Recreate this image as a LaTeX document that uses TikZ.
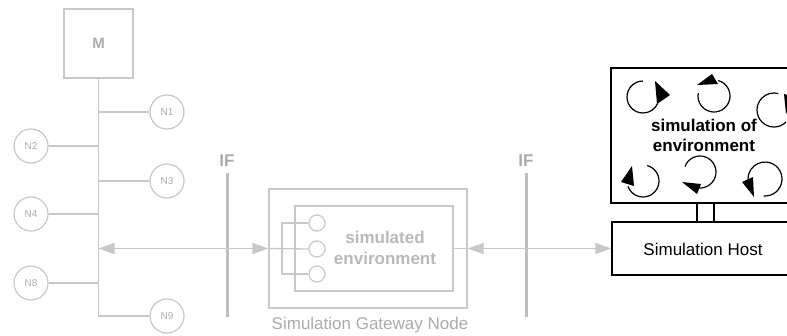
\documentclass[tikz,border=0pt]{standalone}
\usepackage{fontspec}
\setmainfont{Liberation Sans}
\usetikzlibrary{arrows.meta,calc}

\definecolor{lineGray}{RGB}{200,200,200}
\definecolor{ifGray}{RGB}{190,190,190}
\definecolor{textGray}{RGB}{172,172,172}
\definecolor{softGray}{RGB}{185,185,185}

\tikzset{
  gline/.style={draw=lineGray, line width=1.3pt},
  gbox/.style={draw=lineGray, line width=1.3pt, rectangle, inner sep=0pt},
  ncirc/.style={draw=lineGray, line width=1.2pt, circle, minimum size=34pt, inner sep=0pt,
    text=textGray, font=\fontsize{10}{12}\selectfont},
  scirc/.style={draw=lineGray, line width=1.2pt, circle, minimum size=16pt, inner sep=0pt},
  garrow/.style={gline, {Triangle[length=16pt,width=11pt]}-{Triangle[length=16pt,width=11pt]},
    color=lineGray},
  ifline/.style={draw=ifGray, line width=3pt},
  iflabel/.style={text=textGray, font=\fontsize{17}{20}\selectfont\bfseries},
  bbox/.style={draw=black, line width=1.3pt, rectangle, inner sep=0pt},
  bline/.style={draw=black, line width=1.3pt},
  spin/.style={draw=black, line width=1.2pt},
  bigtext/.style={font=\fontsize{17}{20}\selectfont, align=center, inner sep=0pt}
}

\begin{document}
\begin{tikzpicture}[x=1pt,y=-1pt]
\useasboundingbox (0,0) rectangle (787,335);
\clip (0,0) rectangle (787,335);

% master node and the bus
\node[gbox, minimum width=69pt, minimum height=69pt, text=textGray,
      font=\fontsize{15}{18}\selectfont\bfseries] (M) at (98.5,43.5) {M};

\node[ncirc] (n1) at (167,112) {N1};
\node[ncirc] (n2) at (31,146) {N2};
\node[ncirc] (n3) at (167,181) {N3};
\node[ncirc] (n4) at (31,214) {N4};
\node[ncirc] (n8) at (31,283) {N8};
\node[ncirc] (n9) at (167,316) {N9};

\draw[gline] (M.south) |- (n9.west);
\foreach \n in {n1,n2,n3,n4,n8}
  \draw[gline] (\n) -- (\n -| M.south);

% interface markers
\coordinate (ifAtop) at (227,173);
\coordinate (ifAbot) at (227,317);
\coordinate (ifBtop) at (526,173);
\coordinate (ifBbot) at (526,317);
\draw[ifline] (ifAtop) -- (ifAbot);
\draw[ifline] (ifBtop) -- (ifBbot);
\node[iflabel] (ifA) at (227,161) {IF};
\node[iflabel] (ifB) at (526,161) {IF};

% simulation gateway node
\node[gbox, minimum width=198pt, minimum height=119pt] (gwo) at (368,248.5) {};
\node[gbox, minimum width=158pt, minimum height=85pt] (gwi) at (374,248.5) {};
\node[bigtext, text=softGray, font=\fontsize{17}{21}\selectfont\bfseries] (simenv) at (385,248) {simulated\\environment};
\node[bigtext, text=textGray] (gwlabel) at (370,325) {Simulation Gateway Node};

\node[scirc] (s1) at (317,223) {};
\node[scirc] (s2) at (317,249) {};
\node[scirc] (s3) at (317,274) {};
\coordinate (brk) at (282,249);
\draw[gline] (s1.west) -| (brk) |- (s3.west);
\draw[gline] (gwo.west) -- (s2.west);
\draw[gline] (gwi.east) -- (gwo.east);

% links across the interfaces
\draw[garrow] (gwo.west -| M.south) -- (gwo.west);

% simulation host
\node[bbox, minimum width=182pt, minimum height=53pt] (host) at (703,248.5) {};
\node[bigtext] (hostlabel) at (703,249) {Simulation Host};
\node[bbox, minimum width=184pt, minimum height=135pt] (envbox) at (703,135.5) {};
\node[bigtext, font=\fontsize{17}{20}\selectfont\bfseries] (envlabel) at (704,135) {simulation of\\environment};
\draw[bline] ([xshift=-6pt]envbox.south) -- ([xshift=-6pt]envbox.south |- host.north);
\draw[bline] ([xshift=11pt]envbox.south) -- ([xshift=11pt]envbox.south |- host.north);

\draw[garrow] (gwo.east) -- (gwo.east -| host.west);

% rotating processes of the simulated environment
\draw[spin] (643,97) ++(270:16) arc[start angle=270, end angle=23, radius=16];
\fill (655,81) -- (670,95) -- (657,104) -- cycle;

\draw[spin] (714,96) ++(285:16) arc[start angle=285, end angle=550, radius=16];
\fill (697,85) -- (712,74) -- (718,84) -- cycle;

\draw[spin] (774,110) ++(45:17) arc[start angle=45, end angle=285, radius=17];
\fill (784,94) -- (796,97) -- (786,114) -- cycle;

\draw[spin] (643,181) ++(285:16) arc[start angle=285, end angle=520, radius=16];
\fill (632,166) -- (621,182) -- (634,186) -- cycle;

\draw[spin] (700,172) ++(200:16) arc[start angle=200, end angle=465, radius=16];
\fill (682,182) -- (701,184) -- (697,194) -- cycle;

\draw[spin] (765,179) ++(95:17) arc[start angle=95, end angle=-195, radius=17];
\fill (742,182) -- (753,177) -- (754,197) -- cycle;
\end{tikzpicture}
\end{document}
